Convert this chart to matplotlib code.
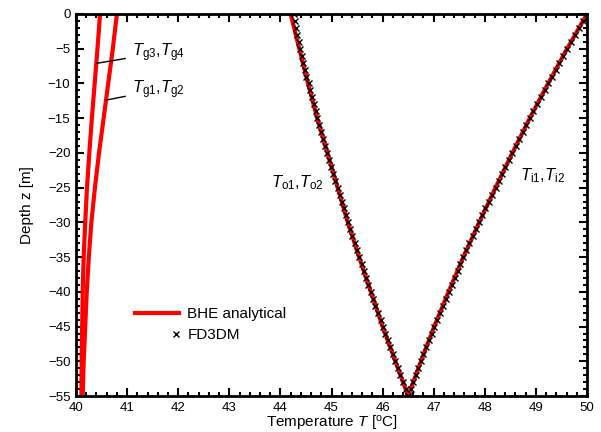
import numpy as np
import matplotlib
matplotlib.use('Agg')
import matplotlib.pyplot as plt
from matplotlib.ticker import MultipleLocator
from matplotlib.legend_handler import HandlerLine2D

plt.rcParams['font.family'] = ['Liberation Sans', 'DejaVu Sans']
plt.rcParams['mathtext.fontset'] = 'custom'
plt.rcParams['mathtext.rm'] = 'Liberation Sans'
plt.rcParams['mathtext.it'] = 'Liberation Sans:italic'

# analytical solution, every 5 m
z_ana = [0, -5, -10, -15, -20, -25, -30, -35, -40, -45, -50, -55]
T_in_ana = [50.00, 49.61, 49.24, 48.88, 48.54, 48.21, 47.89, 47.58, 47.29, 47.01, 46.75, 46.50]
T_out_ana = [44.20, 44.37, 44.54, 44.72, 44.92, 45.12, 45.32, 45.54, 45.77, 46.00, 46.25, 46.50]
T_g12 = [40.80, 40.72, 40.63, 40.54, 40.45, 40.37, 40.30, 40.25, 40.21, 40.18, 40.15, 40.13]
T_g34 = [40.47, 40.42, 40.365, 40.31, 40.26, 40.215, 40.18, 40.15, 40.13, 40.12, 40.11, 40.105]

# FD3DM, every 1 m
z_fd = list(range(0, -56, -1))
T_in_fd = [50.00, 49.92, 49.84, 49.77, 49.69, 49.61, 49.54, 49.46, 49.39, 49.32,
           49.24, 49.17, 49.10, 49.02, 48.95, 48.88, 48.81, 48.74, 48.67, 48.61,
           48.54, 48.47, 48.40, 48.34, 48.27, 48.21, 48.14, 48.08, 48.01, 47.95,
           47.89, 47.83, 47.76, 47.70, 47.64, 47.58, 47.52, 47.47, 47.41, 47.35,
           47.29, 47.24, 47.18, 47.12, 47.07, 47.01, 46.96, 46.91, 46.85, 46.80,
           46.75, 46.70, 46.65, 46.60, 46.55, 46.50]
T_out_fd = [44.26, 44.28, 44.31, 44.33, 44.36, 44.39, 44.42, 44.45, 44.48, 44.51,
            44.55, 44.58, 44.62, 44.65, 44.69, 44.72, 44.76, 44.80, 44.84, 44.88,
            44.92, 44.95, 44.99, 45.03, 45.07, 45.12, 45.16, 45.20, 45.24, 45.28,
            45.32, 45.37, 45.41, 45.45, 45.50, 45.54, 45.59, 45.63, 45.68, 45.72,
            45.77, 45.82, 45.86, 45.91, 45.96, 46.00, 46.05, 46.10, 46.15, 46.20,
            46.25, 46.30, 46.35, 46.40, 46.45, 46.50]


class RightMarker(HandlerLine2D):
    # put the single legend marker at the right end of the handle
    def get_xdata(self, legend, xdescent, ydescent, width, height, fontsize):
        x = -xdescent + width - 2
        return np.array([x, x]), np.array([x])


fig = plt.figure(figsize=(6.01, 4.32), dpi=100)
ax = fig.add_axes([0.1265, 0.0833, 0.8502, 0.8843])

ax.plot(T_g12, z_ana, color='red', lw=3)
ax.plot(T_g34, z_ana, color='red', lw=3)
ax.plot(T_out_ana, z_ana, color='red', lw=3)
line_ana, = ax.plot(T_in_ana, z_ana, color='red', lw=3, label='BHE analytical')
ax.plot(T_out_fd, z_fd, ls='none', marker='x', ms=4.5, mew=1, color='black')
line_fd, = ax.plot(T_in_fd, z_fd, ls='none', marker='x', ms=4.5, mew=1, color='black', label='FD3DM')

ax.set_xlim(40, 50)
ax.set_ylim(-55, 0)
ax.xaxis.set_major_locator(MultipleLocator(1))
ax.xaxis.set_minor_locator(MultipleLocator(0.2))
ax.yaxis.set_major_locator(MultipleLocator(5))
ax.yaxis.set_minor_locator(MultipleLocator(1))
ax.tick_params(which='both', direction='in', top=True, right=True, width=1.5, labelsize=9.5)
ax.tick_params(which='major', length=6, pad=4)
ax.tick_params(which='minor', length=3)
for s in ax.spines.values():
    s.set_linewidth(2)

ax.set_xlabel('Temperature $T$ [$^{\\rm o}$C]', fontsize=11, labelpad=0)
ax.set_ylabel('Depth z [m]', fontsize=11, labelpad=10)

# labels
ax.annotate('$T_{\\rm g3}$,$T_{\\rm g4}$', xy=(40.405, -7.1), xytext=(41.1, -5.6),
            fontsize=12, va='center', ha='left',
            arrowprops=dict(arrowstyle='-', color='black', lw=1, shrinkA=3, shrinkB=0))
ax.annotate('$T_{\\rm g1}$,$T_{\\rm g2}$', xy=(40.587, -12.4), xytext=(41.1, -10.9),
            fontsize=12, va='center', ha='left',
            arrowprops=dict(arrowstyle='-', color='black', lw=1, shrinkA=3, shrinkB=0))
ax.text(43.82, -24.3, '$T_{\\rm o1}$,$T_{\\rm o2}$', fontsize=12, va='center', ha='left')
ax.text(48.69, -23.3, '$T_{\\rm i1}$,$T_{\\rm i2}$', fontsize=12, va='center', ha='left')

ax.legend(handles=[line_ana, line_fd], loc='center left', bbox_to_anchor=(0.115, 0.187),
          frameon=False, fontsize=11, borderpad=0, borderaxespad=0, handlelength=2.9,
          handletextpad=0.55, labelspacing=0.45,
          handler_map={line_fd: RightMarker(numpoints=1)})

fig.savefig('out.png', dpi=100)
